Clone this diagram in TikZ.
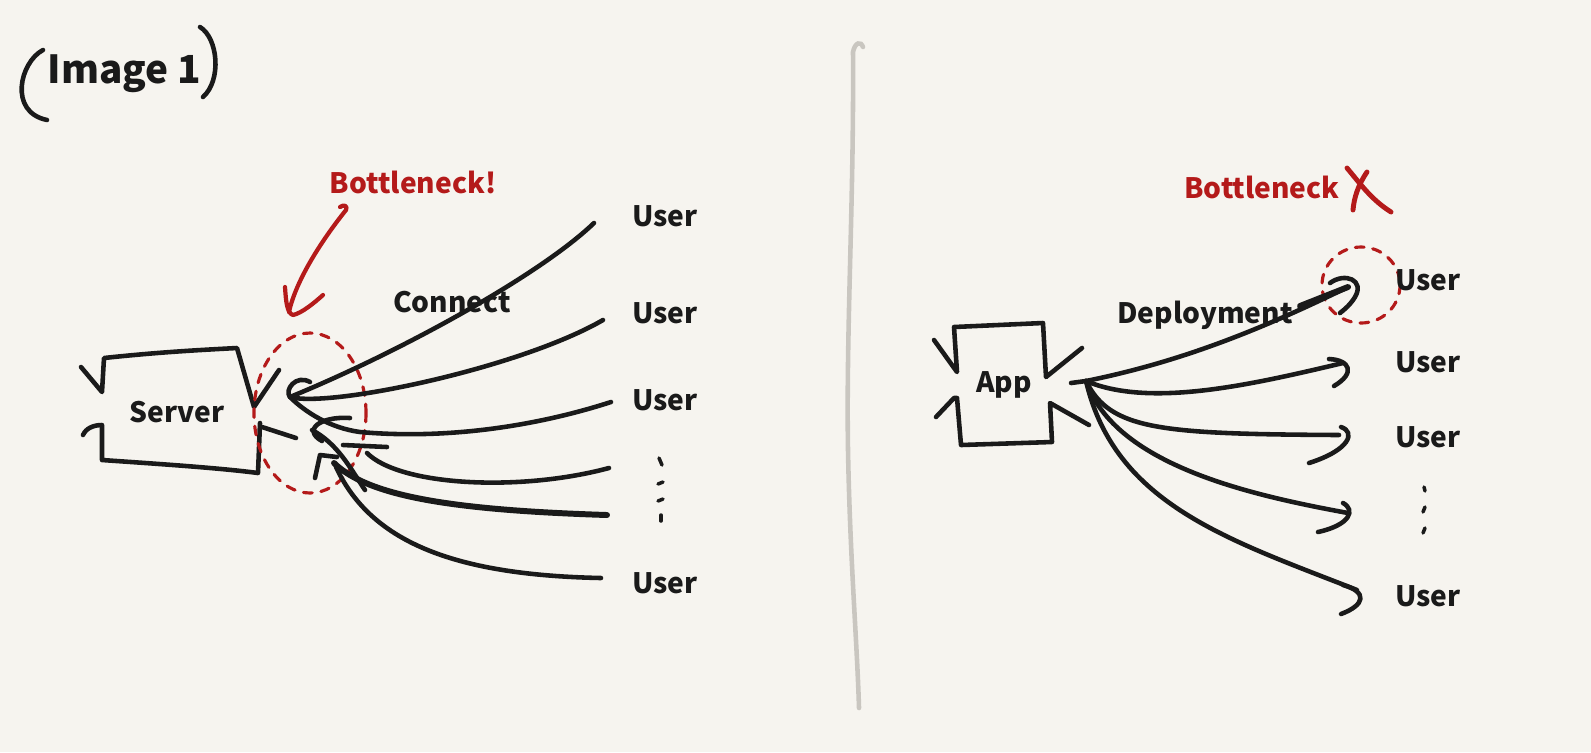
\documentclass[tikz,border=0pt]{standalone}
\usepackage{fontspec}
\setmainfont{Noto Sans CJK SC}
\usepackage{tikz}
\usetikzlibrary{calc}
\definecolor{paper}{HTML}{F6F4EF}
\definecolor{ink}{HTML}{1A1A1A}
\definecolor{redpen}{HTML}{B41A1A}
\definecolor{graypen}{HTML}{C9C6C0}

\begin{document}
\begin{tikzpicture}[x=0.02cm, y=-0.02cm]

\tikzstyle{pen} = [draw=ink, line width=2.6pt, line cap=round, line join=round]
\tikzstyle{fatpen} = [pen, line width=3.4pt]
\tikzstyle{redline} = [draw=redpen, line width=2.4pt, line cap=round, line join=round]
\tikzstyle{circ} = [draw=redpen, line width=1.8pt, dash pattern=on 5pt off 5pt, line cap=round]
\tikzstyle{txt} = [anchor=base, inner sep=0pt, font=\fontsize{16}{19}\selectfont\bfseries, text=ink]
\tikzstyle{redtxt} = [txt, text=redpen]
\tikzstyle{dots} = [pen, line width=2pt]

\fill[paper] (0,0) rectangle (1591,752);
\useasboundingbox (0,0) rectangle (1591,752);

% title
\node (title) [txt, font=\fontsize{22}{26}\selectfont\bfseries] at (124.5,83) {Image 1};
\draw [pen] (43,50) .. controls (20,62) and (8,112) .. (47,120);
\draw [pen] (200,27) .. controls (218,38) and (222,80) .. (203,97);

% divider
\draw [draw=graypen, line width=2.6pt, line cap=round] (863,47) .. controls (861,41) and (855,42) .. (853,52)
  .. controls (854,200) and (846,330) .. (848,450) .. controls (850,560) and (857,640) .. (859,708);

%%% left: server
\node (srv) [txt] at (177,422) {Server};
\draw [pen] (81,367) -- (102,392) -- (104,358) .. controls (160,352) and (200,350) .. (237,348) -- (254,407) -- (279,370);
\draw [pen] (83,435) .. controls (86,428) and (94,425) .. (102,425) -- (102,460) .. controls (160,464) and (220,468) .. (258,473) -- (260,423);
\draw [pen] (262,427) -- (296,438);

\node (bn1) [redtxt] at (413,193) {Bottleneck!};
\draw [circ] (310,413) ellipse [x radius=56, y radius=80];
\draw [redline] (340,207) .. controls (344,204) and (348,206) .. (346,210) .. controls (322,240) and (296,280) .. (289,312);
\draw [redline] (285,287) .. controls (286,302) and (287,313) .. (293,315) .. controls (302,313) and (314,303) .. (323,295);

\node (conn) [txt] at (452,312) {Connect};

\node (u1) [txt] at (665,226) {User};
\node (u2) [txt] at (665,323) {User};
\node (u3) [txt] at (665,410) {User};
\node (u4) [txt] at (665,593) {User};
\draw [dots] (659,458) -- (662,465);
\draw [dots] (658,484) -- (663,482);
\draw [dots] (658,501) -- (663,499);
\draw [dots] (661,515) -- (661,521);

\coordinate (hubL) at (290,397);
\coordinate (e1) at (594,223);
\coordinate (e2) at (603,320);
\coordinate (e3) at (611,402);
\coordinate (e4) at (609,468);
\coordinate (e5) at (607,515);
\coordinate (e6) at (601,578);

\draw [pen] (310,382) .. controls (296,374) and (284,390) .. (hubL);
\draw [pen] (hubL) .. controls (400,352) and (540,275) .. (e1);
\draw [pen] (hubL) .. controls (330,408) and (520,368) .. (e2);
\draw [pen] (hubL) .. controls (305,412) and (330,428) .. (360,432) .. controls (450,440) and (540,425) .. (e3);
\draw [pen] (350,418) .. controls (320,416) and (302,430) .. (322,441);
\draw [pen] (312,430) .. controls (338,444) and (350,468) .. (365,490);
\draw [pen] (343,445) -- (387,447);
\draw [pen] (367,453) .. controls (400,486) and (520,492) .. (e4);
\draw [pen] (315,478) -- (320,455) -- (337,457);
\draw [fatpen] (334,463) .. controls (368,496) and (450,510) .. (e5);
\draw [pen] (336,467) .. controls (370,540) and (450,575) .. (e6);

%%% right: app
\node (app) [txt] at (1004,392) {App};
\draw [pen] (934,340) -- (957,372) -- (954,327) -- (1043,323) -- (1046,377) -- (1082,348);
\draw [pen] (936,417) -- (954,398) -- (957,398) -- (961,445) -- (1052,442) -- (1050,403) -- (1089,425);

\node (bn2) [redtxt] at (1262,198) {Bottleneck};
\draw [redline, line width=2.8pt] (1347,168) .. controls (1362,186) and (1372,200) .. (1391,212);
\draw [redline, line width=2.8pt] (1367,172) .. controls (1358,185) and (1354,198) .. (1353,210);
\draw [circ] (1361,285) ellipse [x radius=39, y radius=38];

\node (dep) [txt] at (1205,323) {Deployment};

\node (v1) [txt] at (1428,290) {User};
\node (v2) [txt] at (1428,372) {User};
\node (v3) [txt] at (1428,447) {User};
\node (v4) [txt] at (1428,606) {User};
\draw [dots] (1424,487) -- (1425,491);
\draw [dots] (1425,507) -- (1423,512);
\draw [dots] (1425,528) -- (1423,533);

\coordinate (hubR) at (1086,381);
\coordinate (f1) at (1348,287);
\coordinate (f2) at (1343,363);
\coordinate (f3) at (1339,435);
\coordinate (f4) at (1348,513);
\coordinate (f5) at (1357,590);

\draw [pen] (1071,383) -- (hubR);
\draw [pen] (hubR) .. controls (1180,362) and (1260,330) .. (f1);
\draw [fatpen] (1300,306) -- (f1);
\draw [pen] (1330,283) .. controls (1345,272) and (1365,280) .. (1355,297) .. controls (1350,305) and (1345,309) .. (1340,313);
\draw [pen] (hubR) .. controls (1150,408) and (1250,385) .. (f2);
\draw [pen] (1329,359) .. controls (1350,360) and (1356,373) .. (1334,386);
\draw [pen] (hubR) .. controls (1110,430) and (1160,434) .. (f3);
\draw [pen] (1341,427) .. controls (1356,432) and (1350,450) .. (1309,463);
\draw [pen] (hubR) .. controls (1115,465) and (1250,495) .. (f4);
\draw [pen] (1343,503) .. controls (1356,510) and (1350,525) .. (1318,532);
\draw [pen] (hubR) .. controls (1115,505) and (1230,540) .. (f5);
\draw [pen] (1343,585) .. controls (1368,592) and (1365,605) .. (1341,614);

\end{tikzpicture}
\end{document}
